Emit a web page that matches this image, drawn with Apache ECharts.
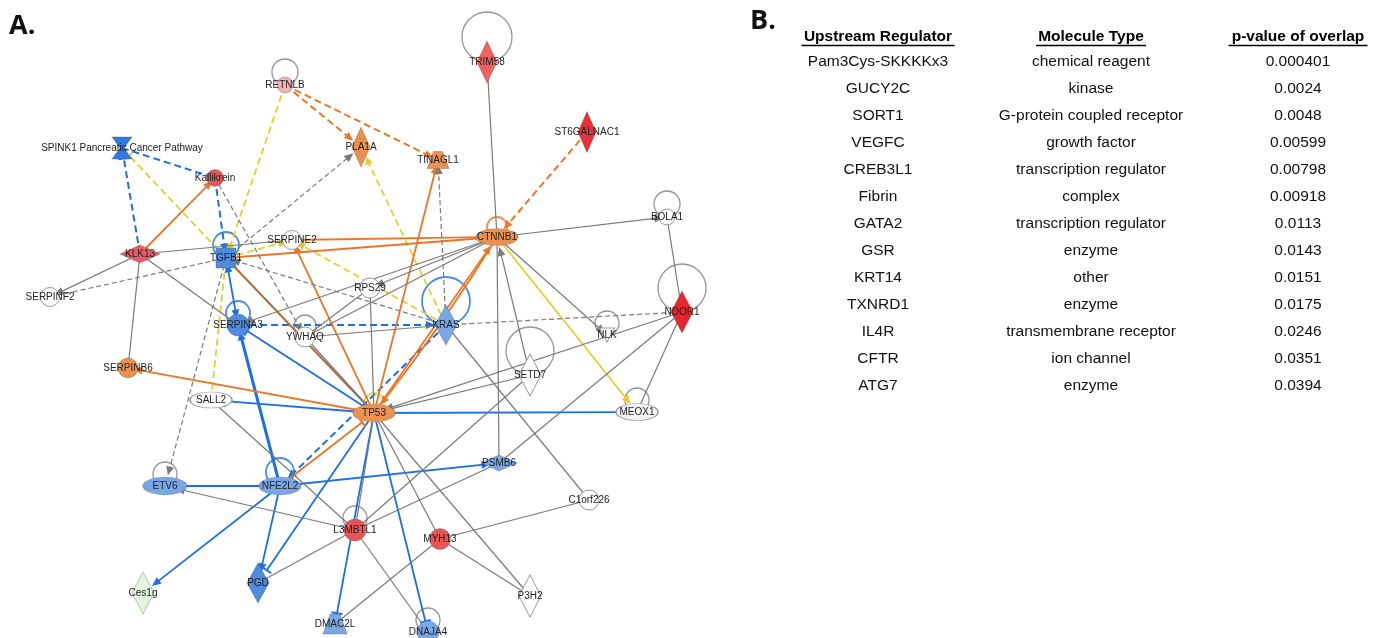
<!DOCTYPE html>
<html><head><meta charset="utf-8">
<script src="https://cdn.jsdelivr.net/npm/echarts@6/dist/echarts.min.js"></script>
<style>html,body{margin:0;padding:0;background:#fff}#c{width:1381px;height:638px}</style>
</head><body><div id="c"></div>
<script>
// ---------------- DATA ----------------
const SPINK = 'SPINK1 Pancreatic Cancer Pathway';
const nodeNames = ['RETNLB', SPINK, 'Kallikrein', 'PLA1A', 'TINAGL1', 'TRIM58', 'ST6GALNAC1', 'BOLA1', 'CTNNB1', 'KLK13',
  'TGFB1', 'SERPINE2', 'SERPINF2', 'RPS29', 'SERPINA3', 'YWHAQ', 'KRAS', 'NLK', 'NDOR1', 'SETD7',
  'SERPINB6', 'SALL2', 'TP53', 'MEOX1', 'ETV6', 'NFE2L2', 'PSMB6', 'C1orf226', 'L3MBTL1', 'MYH13',
  'Ces1g', 'PGD', 'P3H2', 'DMAC2L', 'DNAJA4'];
// node layout (network coordinates)
const nodeX = [285, 122, 215, 361, 438, 487, 587, 667, 497, 140,
  226, 292, 50, 370, 238, 305, 446, 607, 682, 530,
  128, 211, 374, 637, 165, 280, 499, 589, 355, 440,
  143, 258, 530, 335, 428];
const nodeY = [85, 148, 178, 147, 160, 62, 132, 217, 237, 254,
  258, 240, 297, 288, 325, 337, 325, 335, 312, 375,
  368, 400, 413, 412, 486, 486, 463, 500, 530, 539,
  593, 583, 596, 624, 632];

// edges: [source, target, relation, end marker]
const edges = [
  ['RETNLB', 'PLA1A', 'orangeDash', 'arrow'],
  ['RETNLB', 'TINAGL1', 'orangeDash', 'arrow'],
  ['ST6GALNAC1', 'CTNNB1', 'orangeDash', 'arrow'],
  ['RETNLB', 'TGFB1', 'yellowDash', 'arrow'],
  ['SALL2', 'TGFB1', 'yellowDash', 'none'],
  ['TGFB1', SPINK, 'yellowDash', 'bar'],
  ['TGFB1', 'SERPINE2', 'yellowDash', 'arrow'],
  ['KRAS', 'SERPINE2', 'yellowDash', 'arrow'],
  ['KRAS', 'PLA1A', 'yellowDash', 'arrow'],
  ['CTNNB1', 'MEOX1', 'yellow', 'arrow'],
  [SPINK, 'Kallikrein', 'blueDash', 'none'],
  ['KLK13', SPINK, 'blueDash', 'bar'],
  ['Kallikrein', 'TGFB1', 'blueDash', 'arrow'],
  ['SERPINA3', 'KRAS', 'blueDash', 'arrow'],
  ['KRAS', 'NFE2L2', 'blueDash', 'arrow'],
  ['TP53', 'SERPINA3', 'blue', 'bar'],
  ['TP53', 'SALL2', 'blue', 'bar'],
  ['TP53', 'MEOX1', 'blue', 'bar'],
  ['NFE2L2', 'SERPINA3', 'blueThick', 'arrow'],
  ['SERPINA3', 'TGFB1', 'blue', 'both'],
  ['NFE2L2', 'ETV6', 'blue', 'arrow'],
  ['NFE2L2', 'Ces1g', 'blue', 'arrow'],
  ['NFE2L2', 'PGD', 'blue', 'arrow'],
  ['NFE2L2', 'PSMB6', 'blue', 'arrow'],
  ['TP53', 'PGD', 'blue', 'bar'],
  ['TP53', 'DNAJA4', 'blue', 'bar'],
  ['TP53', 'DMAC2L', 'blue', 'bar'],
  ['KLK13', 'Kallikrein', 'orange', 'arrow'],
  ['TGFB1', 'CTNNB1', 'orange', 'none'],
  ['SERPINE2', 'CTNNB1', 'orange', 'arrow'],
  ['TP53', 'SERPINE2', 'orange', 'arrow'],
  ['TP53', 'TINAGL1', 'orange', 'arrow'],
  ['TP53', 'SERPINB6', 'orange', 'arrow'],
  ['TP53', 'CTNNB1', 'orange', 'arrow'],
  ['CTNNB1', 'TP53', 'orangeBend', 'arrow'],
  ['NFE2L2', 'TP53', 'orange', 'bar'],
  ['TGFB1', 'TP53', 'brown', 'none'],
  ['TRIM58', 'CTNNB1', 'gray', 'none'],
  ['CTNNB1', 'PSMB6', 'gray', 'none'],
  ['CTNNB1', 'BOLA1', 'gray', 'arrow'],
  ['KLK13', 'SERPINE2', 'gray', 'none'],
  ['KLK13', 'SERPINF2', 'gray', 'arrow'],
  ['TGFB1', 'SERPINF2', 'grayDash', 'none'],
  ['KLK13', 'SERPINB6', 'gray', 'none'],
  ['KLK13', 'SERPINA3', 'gray', 'none'],
  ['Kallikrein', 'YWHAQ', 'grayDash', 'arrow'],
  ['TGFB1', 'PLA1A', 'grayDash', 'arrow'],
  ['KRAS', 'TINAGL1', 'grayDash', 'arrow'],
  ['TGFB1', 'ETV6', 'grayDash', 'arrow'],
  ['KRAS', 'TGFB1', 'grayDash', 'arrow'],
  ['NDOR1', 'KRAS', 'grayDash', 'none'],
  ['CTNNB1', 'RPS29', 'gray', 'arrow'],
  ['CTNNB1', 'SERPINA3', 'gray', 'arrow'],
  ['CTNNB1', 'YWHAQ', 'gray', 'none'],
  ['YWHAQ', 'KRAS', 'gray', 'none'],
  ['RPS29', 'TP53', 'gray', 'none'],
  ['RPS29', 'YWHAQ', 'gray', 'none'],
  ['YWHAQ', 'TP53', 'gray', 'none'],
  ['KRAS', 'C1orf226', 'gray', 'none'],
  ['SETD7', 'CTNNB1', 'gray', 'arrow'],
  ['CTNNB1', 'NLK', 'gray', 'arrow'],
  ['NDOR1', 'TP53', 'gray', 'arrow'],
  ['SETD7', 'TP53', 'gray', 'arrow'],
  ['NDOR1', 'MEOX1', 'gray', 'none'],
  ['NDOR1', 'BOLA1', 'gray', 'none'],
  ['NDOR1', 'PSMB6', 'gray', 'none'],
  ['SETD7', 'L3MBTL1', 'gray', 'none'],
  ['PSMB6', 'L3MBTL1', 'gray', 'none'],
  ['L3MBTL1', 'ETV6', 'gray', 'arrow'],
  ['SALL2', 'L3MBTL1', 'gray', 'none'],
  ['L3MBTL1', 'PGD', 'gray', 'none'],
  ['L3MBTL1', 'DNAJA4', 'gray', 'none'],
  ['TP53', 'L3MBTL1', 'gray', 'none'],
  ['MYH13', 'C1orf226', 'gray', 'none'],
  ['MYH13', 'DMAC2L', 'gray', 'none'],
  ['MYH13', 'P3H2', 'gray', 'none'],
  ['TP53', 'MYH13', 'gray', 'none'],
  ['TP53', 'P3H2', 'gray', 'none']
];

// self-regulation loops: node, relation
const loopNodes = ['RETNLB', 'TRIM58', 'BOLA1', 'CTNNB1', 'TGFB1', 'SERPINA3', 'YWHAQ', 'KRAS', 'NLK', 'NDOR1',
  'SETD7', 'TP53', 'MEOX1', 'ETV6', 'NFE2L2', 'L3MBTL1', 'DNAJA4'];
const loopRelation = ['gray', 'gray', 'gray', 'orange', 'blue', 'blue', 'gray', 'blue', 'gray', 'gray',
  'gray', 'yellow', 'gray', 'gray', 'blue', 'gray', 'gray'];

// table (panel B)
const tableHeaders = ['Upstream Regulator', 'Molecule Type', 'p-value of overlap'];
const regulators = ['Pam3Cys-SKKKKx3', 'GUCY2C', 'SORT1', 'VEGFC', 'CREB3L1', 'Fibrin', 'GATA2', 'GSR', 'KRT14', 'TXNRD1', 'IL4R', 'CFTR', 'ATG7'];
const moleculeTypes = ['chemical reagent', 'kinase', 'G-protein coupled receptor', 'growth factor', 'transcription regulator', 'complex',
  'transcription regulator', 'enzyme', 'other', 'enzyme', 'transmembrane receptor', 'ion channel', 'enzyme'];
const pValues = [0.000401, 0.0024, 0.0048, 0.00599, 0.00798, 0.00918, 0.0113, 0.0143, 0.0151, 0.0175, 0.0246, 0.0351, 0.0394];

// ---------------- STYLES ----------------
const COL = {orange: '#ec7628', yellow: '#e4cf2c', blue: '#1c6fe4', gray: '#7a7a7a', brown: '#a8703e'};
const edgeStyle = {
  gray: {color: COL.gray, width: 1.2, type: 'solid'},
  grayDash: {color: COL.gray, width: 1.2, type: [5, 3]},
  orange: {color: COL.orange, width: 1.8, type: 'solid'},
  orangeBend: {color: COL.orange, width: 1.8, type: 'solid', curveness: 0.03},
  orangeDash: {color: COL.orange, width: 2, type: [7, 4]},
  yellow: {color: COL.yellow, width: 1.8, type: 'solid'},
  yellowDash: {color: COL.yellow, width: 1.8, type: [7, 4]},
  blue: {color: COL.blue, width: 1.8, type: 'solid'},
  blueThick: {color: COL.blue, width: 3, type: 'solid'},
  blueDash: {color: COL.blue, width: 2, type: [7, 4]},
  brown: {color: COL.brown, width: 2, type: 'solid'}
};
const P = {
  trap: 'path://M3,0L7,0L10,10L0,10Z',
  hourglass: 'path://M0,0L10,0L6,5L10,10L0,10L4,5Z',
  tri: 'path://M0,0L10,0L5,10Z',
  bar: 'path://M0,0L10,0L10,2L0,2Z'
};
const ORG = '#ec9150', LBL = '#79a7e6', RED = '#e85454', WHT = '#ffffff';
const nodeStyle = {
  'RETNLB': ['circle', 16, '#f5b2b2'],
  [SPINK]: [P.hourglass, [20, 22], '#2f7ae6'],
  'Kallikrein': ['circle', 17, '#e0585c'],
  'PLA1A': ['diamond', [18, 40], '#e9914e'],
  'TINAGL1': [P.trap, [22, 17], '#ec9150'],
  'TRIM58': ['diamond', [20, 42], '#f06060'],
  'ST6GALNAC1': ['diamond', [18, 41], '#e8303a'],
  'BOLA1': ['circle', 16, WHT],
  'CTNNB1': ['circle', [42, 17], ORG],
  'KLK13': ['diamond', [40, 18], '#ec5a64'],
  'TGFB1': ['rect', [20, 20], '#4f8ce0'],
  'SERPINE2': ['circle', 19, WHT],
  'SERPINF2': ['circle', 19, WHT],
  'RPS29': ['circle', 20, WHT],
  'SERPINA3': ['circle', 22, '#4f8ce0'],
  'YWHAQ': ['circle', 20, WHT],
  'KRAS': ['diamond', [22, 40], LBL],
  'NLK': [P.tri, [15, 14], WHT],
  'NDOR1': ['diamond', [22, 42], '#e8262e'],
  'SETD7': ['diamond', [22, 42], WHT],
  'SERPINB6': ['circle', 20, ORG],
  'SALL2': ['circle', [42, 16], WHT],
  'TP53': ['circle', [42, 18], ORG],
  'MEOX1': ['circle', [42, 17], '#f3f3f3'],
  'ETV6': ['circle', [44, 18], LBL],
  'NFE2L2': ['circle', [42, 18], LBL],
  'PSMB6': ['diamond', [36, 16], LBL],
  'C1orf226': ['circle', 20, WHT],
  'L3MBTL1': ['circle', 22, RED],
  'MYH13': ['circle', 21, RED],
  'Ces1g': ['diamond', [22, 42], '#e0f6dc'],
  'PGD': ['diamond', [22, 40], '#4f8ce0'],
  'P3H2': ['diamond', [22, 42], WHT],
  'DMAC2L': [P.trap, [24, 20], LBL],
  'DNAJA4': ['circle', 22, LBL]
};
const loopRadius = {RETNLB: 13, TRIM58: 25, BOLA1: 13, CTNNB1: 10, TGFB1: 13, SERPINA3: 12, YWHAQ: 11, KRAS: 24, NLK: 12,
  NDOR1: 24, SETD7: 24, TP53: 10, MEOX1: 12, ETV6: 12, NFE2L2: 14, L3MBTL1: 12, DNAJA4: 12};

// ---------------- BUILD ----------------
const idx = {};
nodeNames.forEach((n, i) => idx[n] = i);

const nodes = nodeNames.map((n, i) => {
  const s = nodeStyle[n];
  return {
    name: n, value: [nodeX[i], nodeY[i]],
    symbol: s[0], symbolSize: s[1],
    itemStyle: {color: s[2], borderColor: s[2] === WHT || s[2] === '#f3f3f3' ? '#9a9a9a' : 'rgba(90,90,90,0.35)', borderWidth: 1}
  };
});

const links = edges.map(e => {
  const st = edgeStyle[e[2]];
  let sym = ['none', 'none'], size = [8, 8];
  if (e[3] === 'arrow') { sym = ['none', 'triangle']; size = [8, [8, 9]]; }
  if (e[3] === 'both') { sym = ['triangle', 'triangle']; size = [[8, 9], [8, 9]]; }
  if (e[3] === 'bar') { sym = ['none', P.bar]; size = [8, [11, 2]]; }
  return {
    source: e[0], target: e[1],
    symbol: sym, symbolSize: size,
    lineStyle: {color: st.color, width: st.width, type: st.type, curveness: st.curveness || 0, opacity: 1}
  };
});

const loops = loopNodes.map((n, k) => {
  const i = idx[n], r = loopRadius[n];
  return {
    value: [nodeX[i], nodeY[i]],
    symbolSize: 2 * r,
    symbolOffset: [0, -r],
    itemStyle: {color: 'rgba(0,0,0,0)', borderColor: COL[loopRelation[k]], borderWidth: loopRelation[k] === 'gray' ? 1.3 : 1.8}
  };
});

// table graphics
const colX = [878, 1091, 1298];
const underlineW = [153, 110, 139];
const headerY = 37, rowY0 = 62, rowStep = 27;
const FAM = 'Liberation Sans';
const graphics = [];
graphics.push({type: 'text', left: 9, top: 13, style: {text: 'A.', fontSize: 27, fontWeight: 'bold', fontFamily: 'Open Sans', fill: '#111'}});
graphics.push({type: 'text', left: 750, top: 8, style: {text: 'B.', fontSize: 27, fontWeight: 'bold', fontFamily: 'Open Sans', fill: '#111'}});
tableHeaders.forEach((h, c) => {
  graphics.push({type: 'text', x: colX[c], y: headerY, style: {text: h, fontSize: 15.5, fontWeight: 'bold', fontFamily: FAM, fill: '#000', align: 'center', verticalAlign: 'middle'}});
  graphics.push({type: 'line', shape: {x1: colX[c] - underlineW[c] / 2, y1: headerY + 8.5, x2: colX[c] + underlineW[c] / 2, y2: headerY + 8.5}, style: {stroke: '#000', lineWidth: 1.3}});
});
const cols = [regulators, moleculeTypes, pValues.map(v => String(v))];
regulators.forEach((r, k) => {
  cols.forEach((col, c) => {
    graphics.push({type: 'text', x: colX[c], y: rowY0 + k * rowStep, style: {text: col[k], fontSize: 15.5, fontFamily: FAM, fill: '#111', align: 'center', verticalAlign: 'middle'}});
  });
});

const chart = echarts.init(document.getElementById('c'));
chart.setOption({
  animation: false,
  backgroundColor: '#fff',
  grid: {left: 0, top: 0, right: 0, bottom: 0},
  xAxis: {type: 'value', min: 0, max: 1381, show: false},
  yAxis: {type: 'value', min: 0, max: 638, inverse: true, show: false},
  graphic: graphics,
  series: [
    {
      type: 'scatter', z: 1, symbol: 'circle', silent: true,
      data: loops
    },
    {
      type: 'graph', coordinateSystem: 'cartesian2d', z: 3,
      data: nodes, links: links,
      label: {show: true, position: 'inside', fontSize: 10, color: '#222', fontFamily: FAM},
      emphasis: {disabled: true},
      lineStyle: {opacity: 1}
    }
  ]
});
</script></body></html>
